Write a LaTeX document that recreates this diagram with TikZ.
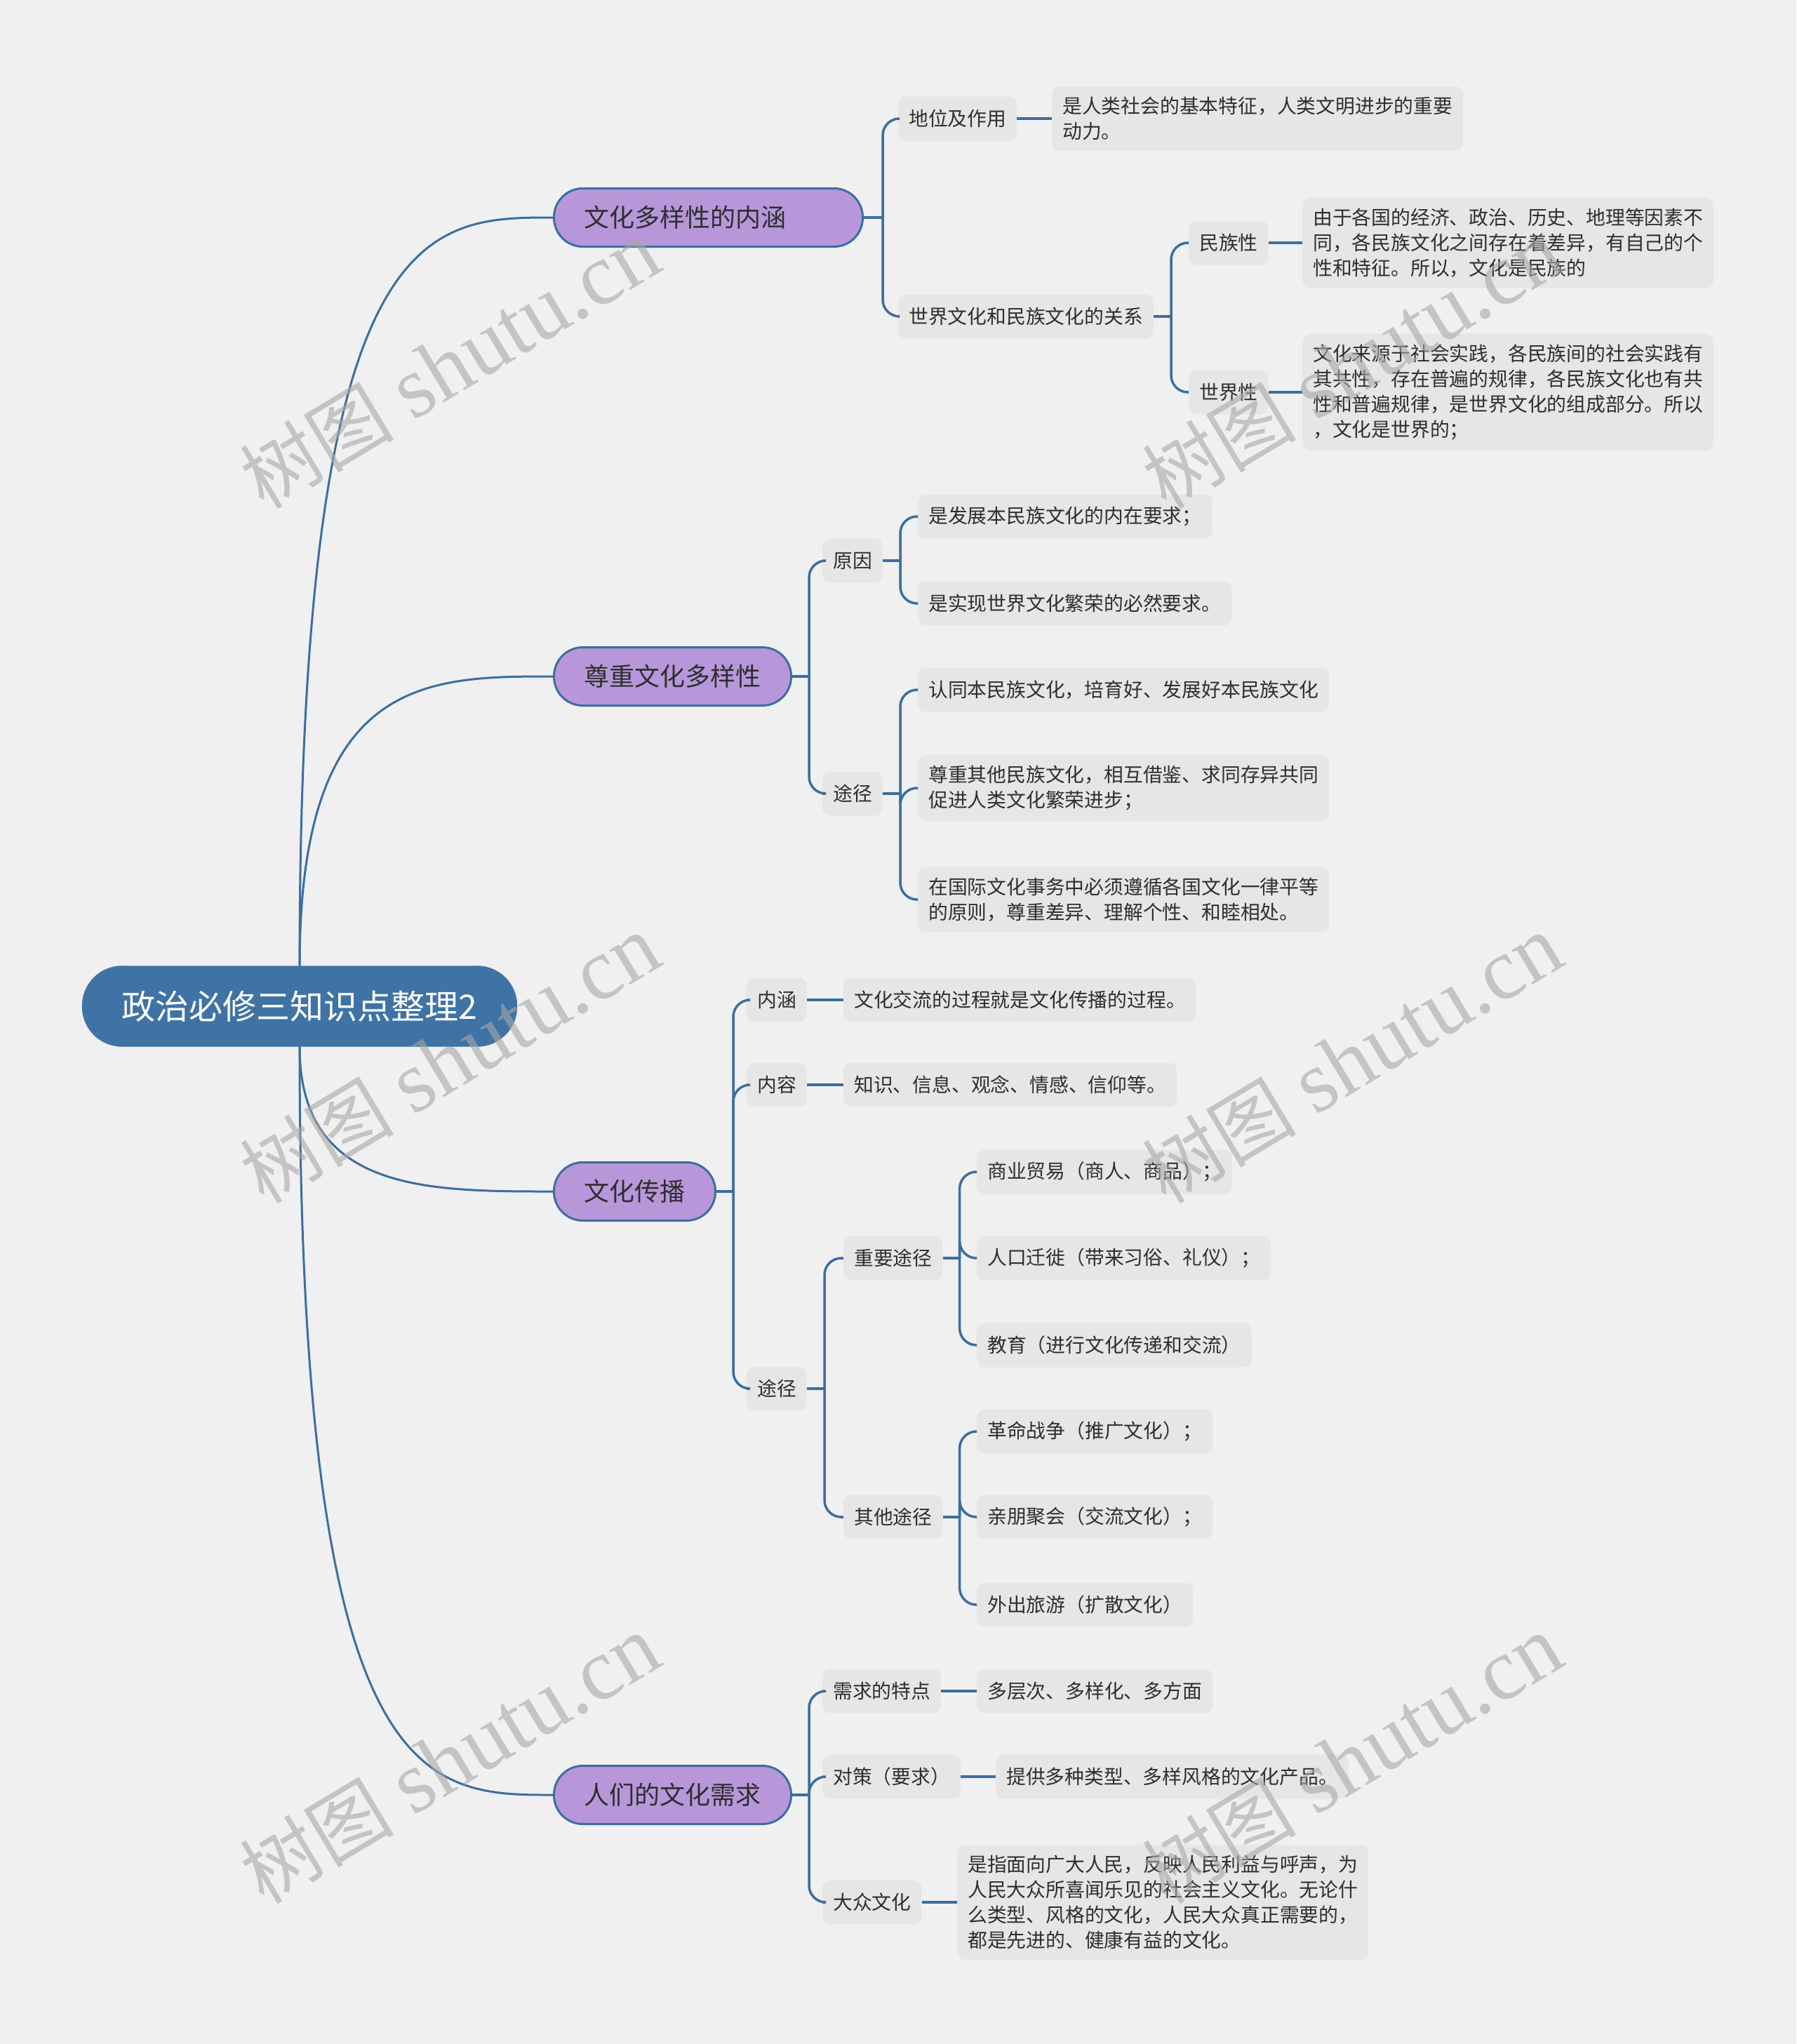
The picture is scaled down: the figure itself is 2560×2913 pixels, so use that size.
\documentclass[tikz,border=0pt]{standalone}
\usepackage{fontspec}
\setmainfont{Noto Sans CJK SC}
\newfontfamily\wmserif{Liberation Serif}
\usetikzlibrary{calc}
\definecolor{bgc}{HTML}{F0F0F0}
\definecolor{linec}{HTML}{3C6E9F}
\definecolor{rootc}{HTML}{3F73A5}
\definecolor{purc}{HTML}{B797DA}
\definecolor{boxc}{HTML}{E6E6E6}
\definecolor{txtc}{HTML}{2E2E2E}
\definecolor{wmc}{HTML}{A8A8A8}
\tikzset{
  rootnode/.style={fill=rootc, draw=rootc, rounded corners=57pt, minimum height=115pt, minimum width=620pt, text=white, font=\fontsize{48}{52}\selectfont, inner xsep=0pt},
  mainnode/.style={fill=purc, draw=linec, line width=3pt, rounded corners=41pt, minimum height=83pt, inner xsep=43pt, text=txtc, font=\fontsize{36}{40}\selectfont, anchor=west},
  subnode/.style={fill=boxc, rounded corners=11pt, minimum height=63pt, inner xsep=15pt, inner ysep=15pt, text=txtc, font=\fontsize{27.8}{36}\selectfont, anchor=west, align=left},
  mainlink/.style={draw=linec, line width=3pt},
  sublink/.style={draw=linec, line width=3.5pt, rounded corners=24pt},
  wm/.style={text=wmc, opacity=0.6, rotate=31, inner sep=0pt}
}
\newcommand{\wmtext}{{\fontsize{110}{110}\selectfont 树图}\hspace{28pt}{\wmserif\fontsize{125}{125}\selectfont shutu.cn}}
\begin{document}
\begin{tikzpicture}[x=1pt,y=-1pt]
\fill[bgc] (0,0) rectangle (2560,2913);
\useasboundingbox (0,0) rectangle (2560,2913);

% root
\node[rootnode] (root) at (427,1434) {政治必修三知识点整理2};

% level 1
\node[mainnode, text width=354pt, align=left] (n1) at (788,310) {文化多样性的内涵};
\node[mainnode] (n2) at (788,964) {尊重文化多样性};
\node[mainnode] (n3) at (788,1698) {文化传播};
\node[mainnode] (n4) at (788,2558) {人们的文化需求};

% branch 1
\node[subnode] (n1a) at (1280,169) {地位及作用};
\node[subnode] (n1a1) at (1499,169) {是人类社会的基本特征，人类文明进步的重要\\动力。};
\node[subnode] (n1b) at (1280,451) {世界文化和民族文化的关系};
\node[subnode] (n1b1) at (1694,346) {民族性};
\node[subnode] (n1b1a) at (1856,346) {由于各国的经济、政治、历史、地理等因素不\\同，各民族文化之间存在着差异，有自己的个\\性和特征。所以，文化是民族的};
\node[subnode] (n1b2) at (1694,559) {世界性};
\node[subnode] (n1b2a) at (1856,559) {文化来源于社会实践，各民族间的社会实践有\\其共性，存在普遍的规律，各民族文化也有共\\性和普遍规律，是世界文化的组成部分。所以\\，文化是世界的；};

% branch 2
\node[subnode] (n2a) at (1172,799) {原因};
\node[subnode] (n2a1) at (1308,736) {是发展本民族文化的内在要求；};
\node[subnode] (n2a2) at (1308,860) {是实现世界文化繁荣的必然要求。};
\node[subnode] (n2b) at (1172,1131) {途径};
\node[subnode] (n2b1) at (1308,983) {认同本民族文化，培育好、发展好本民族文化};
\node[subnode] (n2b2) at (1308,1123) {尊重其他民族文化，相互借鉴、求同存异共同\\促进人类文化繁荣进步；};
\node[subnode] (n2b3) at (1308,1282) {在国际文化事务中必须遵循各国文化一律平等\\的原则，尊重差异、理解个性、和睦相处。};

% branch 3
\node[subnode] (n3a) at (1064,1425) {内涵};
\node[subnode] (n3a1) at (1202,1425) {文化交流的过程就是文化传播的过程。};
\node[subnode] (n3b) at (1064,1546) {内容};
\node[subnode] (n3b1) at (1202,1546) {知识、信息、观念、情感、信仰等。};
\node[subnode] (n3c) at (1064,1979) {途径};
\node[subnode] (n3c1) at (1202,1793) {重要途径};
\node[subnode] (n3c1a) at (1392,1670) {商业贸易（商人、商品）；};
\node[subnode] (n3c1b) at (1392,1793) {人口迁徙（带来习俗、礼仪）；};
\node[subnode] (n3c1c) at (1392,1917) {教育（进行文化传递和交流）};
\node[subnode] (n3c2) at (1202,2162) {其他途径};
\node[subnode] (n3c2a) at (1392,2040) {革命战争（推广文化）；};
\node[subnode] (n3c2b) at (1392,2162) {亲朋聚会（交流文化）；};
\node[subnode] (n3c2c) at (1392,2287) {外出旅游（扩散文化）};

% branch 4
\node[subnode] (n4a) at (1172,2410) {需求的特点};
\node[subnode] (n4a1) at (1392,2410) {多层次、多样化、多方面};
\node[subnode] (n4b) at (1172,2532) {对策（要求）};
\node[subnode] (n4b1) at (1419,2532) {提供多种类型、多样风格的文化产品。};
\node[subnode] (n4c) at (1172,2711) {大众文化};
\node[subnode] (n4c1) at (1364,2711) {是指面向广大人民，反映人民利益与呼声，为\\人民大众所喜闻乐见的社会主义文化。无论什\\么类型、风格的文化，人民大众真正需要的，\\都是先进的、健康有益的文化。};

% root links
\coordinate (rt) at (root.north);
\coordinate (rb) at (root.south);
\draw[mainlink] (rt) .. controls (rt |- n1.west) and ($(rt |- n1.west)!0.5!(n1.west)$) .. (n1.west);
\draw[mainlink] (rt) .. controls (rt |- n2.west) and ($(rt |- n2.west)!0.5!(n2.west)$) .. (n2.west);
\draw[mainlink] (rb) .. controls (rb |- n3.west) and ($(rb |- n3.west)!0.5!(n3.west)$) .. (n3.west);
\draw[mainlink] (rb) .. controls (rb |- n4.west) and ($(rb |- n4.west)!0.5!(n4.west)$) .. (n4.west);

% bracket links
\draw[sublink] (n1.east) -- ++(27,0) coordinate (b1);
\draw[sublink] (b1) |- (n1a.west);
\draw[sublink] (b1) |- (n1b.west);
\draw[sublink] (n1a.east) -- (n1a1.west);
\draw[sublink] (n1b.east) -- ++(25,0) coordinate (b1b);
\draw[sublink] (b1b) |- (n1b1.west);
\draw[sublink] (b1b) |- (n1b2.west);
\draw[sublink] (n1b1.east) -- (n1b1a.west);
\draw[sublink] (n1b2.east) -- (n1b2a.west);

\draw[sublink] (n2.east) -- ++(24,0) coordinate (b2);
\draw[sublink] (b2) |- (n2a.west);
\draw[sublink] (b2) |- (n2b.west);
\draw[sublink] (n2a.east) -- ++(25,0) coordinate (b2a);
\draw[sublink] (b2a) |- (n2a1.west);
\draw[sublink] (b2a) |- (n2a2.west);
\draw[sublink] (n2b.east) -- ++(25,0) coordinate (b2b);
\draw[sublink] (b2b) |- (n2b1.west);
\draw[sublink] (b2b) |- (n2b2.west);
\draw[sublink] (b2b) |- (n2b3.west);

\draw[sublink] (n3.east) -- ++(24,0) coordinate (b3);
\draw[sublink] (b3) |- (n3a.west);
\draw[sublink] (b3) |- (n3b.west);
\draw[sublink] (b3) |- (n3c.west);
\draw[sublink] (n3a.east) -- (n3a1.west);
\draw[sublink] (n3b.east) -- (n3b1.west);
\draw[sublink] (n3c.east) -- ++(25,0) coordinate (b3c);
\draw[sublink] (b3c) |- (n3c1.west);
\draw[sublink] (b3c) |- (n3c2.west);
\draw[sublink] (n3c1.east) -- ++(24,0) coordinate (b3c1);
\draw[sublink] (b3c1) |- (n3c1a.west);
\draw[sublink] (b3c1) |- (n3c1b.west);
\draw[sublink] (b3c1) |- (n3c1c.west);
\draw[sublink] (n3c2.east) -- ++(24,0) coordinate (b3c2);
\draw[sublink] (b3c2) |- (n3c2a.west);
\draw[sublink] (b3c2) |- (n3c2b.west);
\draw[sublink] (b3c2) |- (n3c2c.west);

\draw[sublink] (n4.east) -- ++(24,0) coordinate (b4);
\draw[sublink] (b4) |- (n4a.west);
\draw[sublink] (b4) |- (n4b.west);
\draw[sublink] (b4) |- (n4c.west);
\draw[sublink] (n4a.east) -- (n4a1.west);
\draw[sublink] (n4b.east) -- (n4b1.west);
\draw[sublink] (n4c.east) -- (n4c1.west);

% watermarks
\node[wm] (w1) at (641,520) {\wmtext};
\node[wm] (w2) at (1927,520) {\wmtext};
\node[wm] (w3) at (641,1510) {\wmtext};
\node[wm] (w4) at (1927,1510) {\wmtext};
\node[wm] (w5) at (641,2508) {\wmtext};
\node[wm] (w6) at (1927,2508) {\wmtext};
\end{tikzpicture}
\end{document}
